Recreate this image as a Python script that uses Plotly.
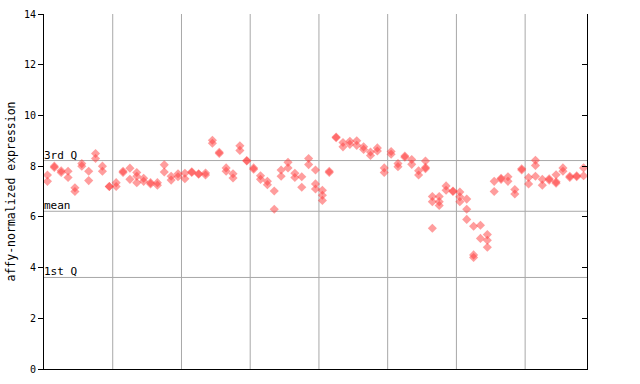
import plotly.graph_objects as go

# expression values per sample (10 samples per group)
group1 = [[7.65, 7.4], [8.0, 7.95], [7.82, 7.75], [7.8, 7.55], [7.15, 7.0],
          [8.1, 8.0], [7.8, 7.43], [8.5, 8.3], [8.0, 7.8], [7.2, 7.2]]
group2 = [[7.35, 7.2], [7.8, 7.75], [7.92, 7.48], [7.75, 7.6, 7.35], [7.52, 7.4],
          [7.35, 7.3], [7.35, 7.25], [8.05, 7.77], [7.6, 7.45], [7.7, 7.58]]
group3 = [[7.72, 7.5], [7.78, 7.75], [7.7, 7.68], [7.73, 7.65], [9.02, 8.9],
          [8.55, 8.5], [7.93, 7.8], [7.7, 7.53], [8.8, 8.62], [8.22, 8.2]]
group4 = [[7.93, 7.88], [7.62, 7.48], [7.4, 7.27], [7.02, 6.3], [7.85, 7.6],
          [8.15, 7.93], [7.72, 7.55], [7.58, 7.17], [8.3, 8.06], [7.85, 7.3, 7.1]]
group5 = [[7.05, 6.85, 6.65], [7.8, 7.75], [9.15, 9.12], [8.93, 8.76], [8.98, 8.86],
          [9.0, 8.82], [8.76, 8.66], [8.56, 8.42], [8.72, 8.6], [7.93, 7.75]]
group6 = [[8.58, 8.47], [8.1, 7.98], [8.4, 8.35], [8.26, 8.07], [7.82, 7.65],
          [8.2, 7.95, 7.9], [6.8, 6.6, 5.55], [6.8, 6.6, 6.45], [7.22, 7.05], [7.02, 7.0]]
group7 = [[6.98, 6.79, 6.6], [6.7, 6.3, 5.9], [5.63, 4.5, 4.4], [5.67, 5.15], [5.3, 5.08, 4.8],
          [7.4, 7.0], [7.52, 7.48], [7.58, 7.4], [7.08, 6.9], [7.9, 7.85]]
group8 = [[7.55, 7.3], [8.23, 8.03, 7.6], [7.48, 7.25], [7.5, 7.45], [7.66, 7.38, 7.33],
          [7.93, 7.8], [7.6, 7.55], [7.62, 7.58], [7.93, 7.62]]

q1_value = 3.61
mean_value = 6.22
q3_value = 8.22
y_ticks = [0, 2, 4, 6, 8, 10, 12, 14]

samples = group1 + group2 + group3 + group4 + group5 + group6 + group7 + group8
n = len(samples)
xs, ys = [], []
for i, vals in enumerate(samples):
    for v in vals:
        xs.append(i + 0.5)
        ys.append(v)

mono = "DejaVu Sans Mono"
fig = go.Figure()
fig.add_trace(go.Scatter(
    x=xs, y=ys, mode="markers",
    marker=dict(symbol="diamond", size=7, color="rgba(255,60,60,0.5)", line=dict(width=0)),
    hoverinfo="skip", showlegend=False))
# invisible trace to anchor right axis
fig.add_trace(go.Scatter(x=[0], y=[0], yaxis="y2", mode="markers",
                         marker=dict(opacity=0), showlegend=False, hoverinfo="skip"))

shapes = []
for g in range(10, n, 10):
    shapes.append(dict(type="line", xref="x", yref="paper", x0=g, x1=g, y0=0, y1=1,
                       line=dict(color="#a8a8a8", width=1), layer="below"))
for val in (q1_value, mean_value, q3_value):
    shapes.append(dict(type="line", xref="paper", yref="y", x0=0, x1=1, y0=val, y1=val,
                       line=dict(color="#a8a8a8", width=1), layer="below"))

annotations = []
for val, lab in ((q3_value, "3rd Q"), (mean_value, "mean"), (q1_value, "1st Q")):
    annotations.append(dict(x=0, xref="paper", y=val, yref="y", text=lab, showarrow=False,
                            xanchor="left", yanchor="bottom", xshift=-2, yshift=-3,
                            font=dict(family=mono, size=11, color="black")))

fig.update_layout(
    width=640, height=384,
    margin=dict(l=44, r=53, t=14, b=15, autoexpand=False),
    paper_bgcolor="white", plot_bgcolor="white",
    shapes=shapes, annotations=annotations,
    xaxis=dict(range=[0, n], showgrid=False, zeroline=False, showticklabels=False,
               ticks="", showline=True, linecolor="black", linewidth=1, automargin=False),
    yaxis=dict(range=[0, 14], tickvals=y_ticks, ticks="outside", ticklen=5,
               tickcolor="black", showgrid=False, zeroline=False, showline=True,
               linecolor="black", linewidth=1, automargin=False,
               tickfont=dict(family=mono, size=10, color="black"),
               title=dict(text="affy-normalized expression",
                          font=dict(family=mono, size=11.5, color="black"), standoff=5)),
    yaxis2=dict(range=[0, 14], overlaying="y", side="right", tickvals=y_ticks,
                ticks="inside", ticklen=5, tickcolor="black", showticklabels=False,
                showgrid=False, zeroline=False, showline=True, linecolor="black",
                linewidth=1, automargin=False),
)

fig.write_html("out.html")
